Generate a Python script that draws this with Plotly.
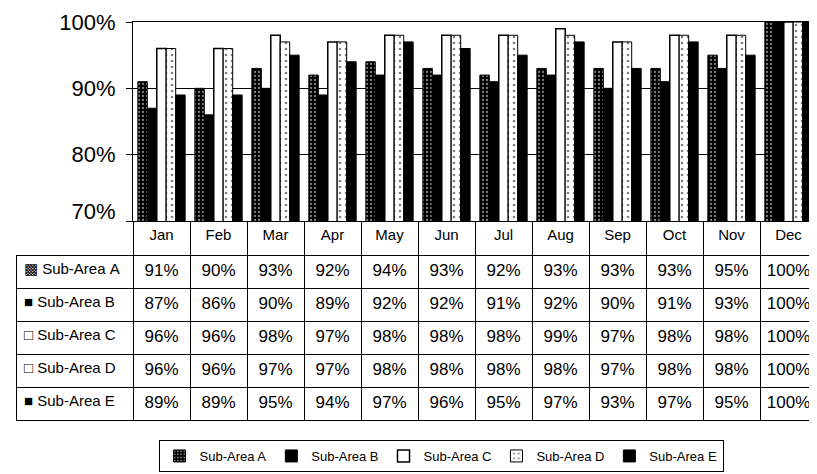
import plotly.graph_objects as go

months = ["Jan", "Feb", "Mar", "Apr", "May", "Jun", "Jul", "Aug", "Sep", "Oct", "Nov", "Dec"]
series_names = ["Sub-Area A", "Sub-Area B", "Sub-Area C", "Sub-Area D", "Sub-Area E"]
sub_a = [91, 90, 93, 92, 94, 93, 92, 93, 93, 93, 95, 100]
sub_b = [87, 86, 90, 89, 92, 92, 91, 92, 90, 91, 93, 100]
sub_c = [96, 96, 98, 97, 98, 98, 98, 99, 97, 98, 98, 100]
sub_d = [96, 96, 97, 97, 98, 98, 98, 98, 97, 98, 98, 100]
sub_e = [89, 89, 95, 94, 97, 96, 95, 97, 93, 97, 95, 100]
table_icons = ["▩", "■", "□", "□", "■"]
y_ticks = [80, 90, 100]
y_tick_low = [70]

series_values = [sub_a, sub_b, sub_c, sub_d, sub_e]

# the page body has an 8px margin, so the figure is sized to fill the rest of the window
OFF = 8
W, H = 817 - OFF, 474 - OFF
FONT = "Liberation Sans"


def fx(px):
    return (px - OFF) / W


def fy(py):
    return 1 - (py - OFF) / H


styles = [
    dict(color="black", line=dict(color="black", width=1),
         pattern=dict(shape=".", fgcolor="white", bgcolor="black", size=4, solidity=0.25)),
    dict(color="black", line=dict(color="black", width=1)),
    dict(color="white", line=dict(color="black", width=1.5)),
    dict(color="white", line=dict(color="black", width=1),
         pattern=dict(shape=".", fgcolor="black", bgcolor="white", size=6, solidity=0.15)),
    dict(color="black", line=dict(color="black", width=1)),
]

fig = go.Figure()
for name, vals, st in zip(series_names, series_values, styles):
    fig.add_trace(go.Bar(x=months, y=vals, name=name, marker=st))

# empty helper trace so the secondary axis (carrying the lowest tick label) is drawn
fig.add_trace(go.Scatter(x=[], y=[], yaxis="y2", showlegend=False, hoverinfo="skip"))

# data table under the plot
NB = "\u00a0"
cell_cols = [[f"{ic}{NB}{n.replace(' ', NB)}" for ic, n in zip(table_icons, series_names)]]
for i in range(len(months)):
    cell_cols.append([f"{s[i]}%" for s in series_values])

fig.add_trace(go.Table(
    domain=dict(x=[fx(16), 1], y=[fy(421), fy(221)]),
    columnwidth=[117] + [57] * 12,
    header=dict(values=[""] + months, height=34,
                line=dict(color=["rgba(0,0,0,0)"] + ["black"] * 12, width=1),
                fill=dict(color=["rgba(0,0,0,0)"] + ["white"] * 12), align="center",
                font=dict(family=FONT, size=15, color="black")),
    cells=dict(values=cell_cols, height=33,
               line=dict(color="black", width=1),
               fill=dict(color="white"), align=["left"] + ["center"] * 12,
               font=dict(family=FONT, size=[15] + [17] * 12, color="black")),
))

yax_common = dict(domain=[fy(221), fy(22)], range=[70, 100],
                  tickfont=dict(family=FONT, size=22, color="black"),
                  ticks="outside", ticklen=6, tickcolor="black",
                  ticklabelstandoff=6, zeroline=False)

fig.update_layout(
    width=W, height=H,
    margin=dict(l=0, r=0, t=0, b=0, autoexpand=False),
    paper_bgcolor="white", plot_bgcolor="white",
    barmode="group", bargap=0.17, bargroupgap=0,
    font=dict(family=FONT, color="black"),
    showlegend=True,
    legend=dict(orientation="h", x=fx(441), xanchor="center", y=fy(440), yanchor="top",
                bordercolor="black", borderwidth=1, font=dict(family=FONT, size=13),
                itemwidth=30, tracegroupgap=0),
    xaxis=dict(domain=[fx(133), 1], range=[-0.5, 11.5], showticklabels=False,
               showline=True, linecolor="black", linewidth=1, mirror=True,
               ticks="", showgrid=False),
    yaxis=dict(**yax_common, tickvals=y_ticks, ticktext=[f"{v}%" for v in y_ticks],
               showgrid=True, gridcolor="black", gridwidth=1,
               showline=True, linecolor="black", linewidth=1),
    yaxis2=dict(**yax_common, overlaying="y", side="left", anchor="x",
                tickvals=y_tick_low, ticktext=[f"{v}%" for v in y_tick_low],
                ticklabelshift=-10, showgrid=False, showline=False),
)

fig.write_html("out.html")
